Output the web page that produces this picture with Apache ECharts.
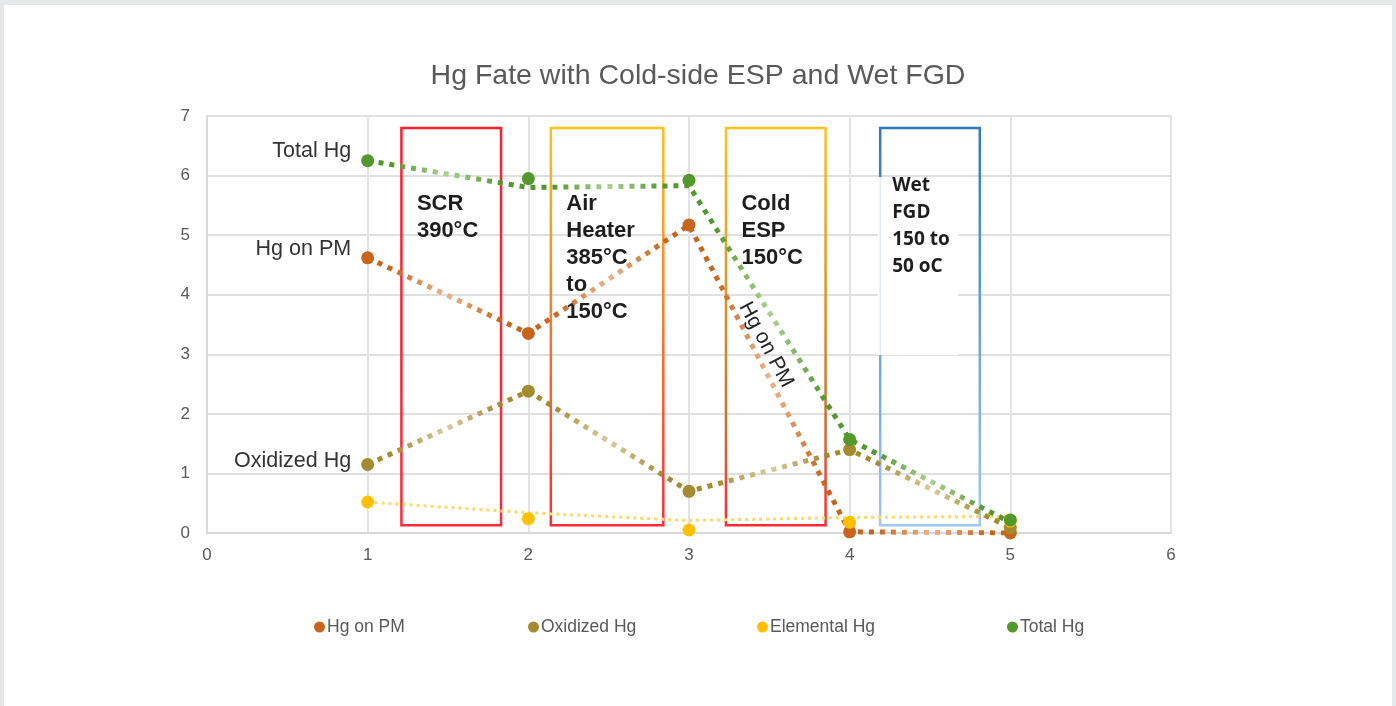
<!DOCTYPE html>
<html>
<head>
<meta charset="utf-8">
<script src="https://cdn.jsdelivr.net/npm/echarts@6/dist/echarts.min.js"></script>
<style>
html,body{margin:0;padding:0;background:#e6e7e9;}
#wrap{position:absolute;left:4px;top:5px;width:1388px;height:701px;background:#fff;}
#chart{position:absolute;left:-4px;top:-5px;width:1396px;height:706px;}
</style>
</head>
<body>
<div id="wrap"><div id="chart"></div></div>
<script>
// ---- data ----
const xValues = [1, 2, 3, 4, 5];
const hgOnPM = [4.62, 3.35, 5.17, 0.02, 0.0];
const oxidizedHg = [1.15, 2.38, 0.70, 1.40, 0.09];
const elementalHg = [0.52, 0.24, 0.05, 0.18, 0.20];
const totalHg = [6.25, 5.95, 5.92, 1.57, 0.22];
// connecting (trend) lines as drawn in the picture
const hgOnPMLine = [4.62, 3.35, 5.17, 0.02, 0.0];
const oxidizedLine = [1.15, 2.38, 0.70, 1.40, 0.09];
const elementalLine = [0.52, 0.34, 0.21, 0.26, 0.28];
const totalLine = [6.25, 5.80, 5.83, 1.57, 0.18];
const seriesNames = ['Hg on PM', 'Oxidized Hg', 'Elemental Hg', 'Total Hg'];
const xTicks = [0, 1, 2, 3, 4, 5, 6];
const yTicks = [0, 1, 2, 3, 4, 5, 6, 7];
// process boxes (value units)
const boxLabels = ['SCR\n390°C', 'Air\nHeater\n385°C\nto\n150°C', 'Cold\nESP\n150°C', 'Wet\nFGD\n150 to\n50 oC'];
const boxStart = [1.21, 2.14, 3.23, 4.19];
const boxEnd = [1.83, 2.84, 3.85, 4.81];
const boxLow = [0.13, 0.13, 0.13, 0.13];
const boxHigh = [6.80, 6.80, 6.80, 6.80];
const rotatedNote = {text: 'Hg on PM', x: 3.48, y: 3.16};

const pair = (arr) => xValues.map((x, i) => [x, arr[i]]);
const G = echarts.graphic;
const SANS = "'Liberation Sans', Arial, sans-serif";

function segGradient(dark, light) {
  const stops = [];
  for (let i = 0; i < 4; i++) {
    const b = i * 0.25;
    stops.push({offset: b, color: dark});
    stops.push({offset: b + 0.04, color: dark});
    stops.push({offset: b + 0.125, color: light});
    stops.push({offset: b + 0.21, color: dark});
  }
  stops.push({offset: 1, color: dark});
  return new G.LinearGradient(0, 0, 1, 0, stops);
}

const colors = ['#c8651c', '#a68a30', '#ffc000', '#52982c'];
const lightColors = ['#ebb58c', '#d9cb9c', '#ffd966', '#abd292'];

const boxStrokes = [
  new G.LinearGradient(0, 0, 0, 1, [{offset: 0, color: '#ff1f2c'}, {offset: 1, color: '#ff2a36'}]),
  new G.LinearGradient(0, 0, 0, 1, [{offset: 0, color: '#ffc21a'}, {offset: 1, color: '#ff2a36'}]),
  new G.LinearGradient(0, 0, 0, 1, [{offset: 0, color: '#ffc21a'}, {offset: 0.75, color: '#cc6d2c'}, {offset: 1, color: '#ff2a36'}]),
  new G.LinearGradient(0, 0, 0, 1, [{offset: 0, color: '#2e78c2'}, {offset: 1, color: '#a0c8f0'}])
];

const labelCfg = {
  'Hg on PM': [-9],
  'Oxidized Hg': [-3],
  'Total Hg': [-10]
};

function scatterSeries(name, arr, color) {
  const data = pair(arr).map((p, i) => {
    const item = {value: p};
    if (i === 0 && labelCfg[name]) {
      item.label = {
        show: true, position: 'left', distance: 10, formatter: name,
        offset: [0, labelCfg[name][0]],
        fontSize: 21.5, color: '#333', fontFamily: SANS
      };
    }
    return item;
  });
  return {
    name: name, type: 'scatter', data: data, symbol: 'circle', symbolSize: 13,
    itemStyle: {color: color, opacity: 1}, z: 5, emphasis: {disabled: true}
  };
}

function lineSeries(name, arr, color, width, dash) {
  return {
    name: name, type: 'line', data: pair(arr), showSymbol: false, symbol: 'none',
    lineStyle: {color: color, width: width, type: dash, cap: 'butt'},
    z: 3, emphasis: {disabled: true}, animation: false
  };
}

const chart = echarts.init(document.getElementById('chart'), null, {renderer: 'canvas'});

const legendLeft = [309, 523, 752, 1002];
const legends = seriesNames.map((n, i) => ({
  data: [{name: n, icon: 'circle', itemStyle: {color: colors[i]}}],
  left: legendLeft[i], top: 613, itemWidth: 11, itemHeight: 11, itemGap: 0,
  textStyle: {fontSize: 17.5, color: '#595959', fontFamily: SANS, padding: [0, 0, 0, -3]},
  selectedMode: false
}));

const option = {
  backgroundColor: 'transparent',
  animation: false,
  title: {
    text: 'Hg Fate with Cold-side ESP and Wet FGD',
    left: 'center', top: 57,
    textStyle: {fontSize: 28.5, fontWeight: 'normal', color: '#595959', fontFamily: SANS}
  },
  legend: legends,
  grid: {left: 207, right: 225, top: 116, bottom: 173, containLabel: false},
  xAxis: {
    type: 'value', min: xTicks[0], max: xTicks[xTicks.length - 1], interval: 1,
    axisLine: {show: true, lineStyle: {color: '#d9d9d9', width: 2}},
    axisTick: {show: false},
    splitLine: {show: true, lineStyle: {color: '#e3e3e3', width: 2}},
    axisLabel: {fontSize: 17, color: '#595959', margin: 14, fontFamily: SANS}
  },
  yAxis: {
    type: 'value', min: yTicks[0], max: yTicks[yTicks.length - 1], interval: 1,
    axisLine: {show: true, lineStyle: {color: '#d9d9d9', width: 2}},
    axisTick: {show: false},
    splitLine: {show: true, lineStyle: {color: '#e0e0e0', width: 2}},
    axisLabel: {fontSize: 17, color: '#595959', margin: 17, fontFamily: SANS}
  },
  series: [
    {
      type: 'custom', name: 'boxes', z: 1, silent: true, clip: false,
      encode: {x: [0, 1], y: [2, 3]},
      data: boxLabels.map((t, i) => [boxStart[i], boxEnd[i], boxLow[i], boxHigh[i]]),
      renderItem: function (params, api) {
        const i = params.dataIndex;
        const tl = api.coord([api.value(0), api.value(3)]);
        const br = api.coord([api.value(1), api.value(2)]);
        const w = br[0] - tl[0], h = br[1] - tl[1];
        const children = [];
        const isWet = i === 3;
        children.push({
          type: 'rect', shape: {x: tl[0], y: tl[1], width: w, height: h},
          style: {fill: null, stroke: boxStrokes[i], lineWidth: 2.5}
        });
        if (isWet) {
          children.push({
            type: 'rect', shape: {x: tl[0] - 2, y: tl[1] + 49, width: 80, height: 178},
            style: {fill: '#ffffff', stroke: null}
          });
          children.push({
            type: 'rect', shape: {x: tl[0] - 0.5, y: tl[1] + 49, width: 1, height: 178},
            style: {fill: '#cfe3f7', stroke: null}
          });
        }
        children.push({
          type: 'text',
          x: tl[0] + (isWet ? 12 : 15.5),
          y: tl[1] + (isWet ? 44 : 63),
          style: {
            text: boxLabels[i],
            fill: '#1e1e1e',
            font: isWet ? 'bold 19px "Open Sans"' : 'bold 22px "Liberation Sans"',
            lineHeight: 27,
            verticalAlign: 'top'
          }
        });
        return {type: 'group', children: children};
      }
    },
    {
      type: 'custom', name: 'note', z: 6, silent: true, clip: false,
      encode: {x: 0, y: 1},
      data: [[rotatedNote.x, rotatedNote.y]],
      renderItem: function (params, api) {
        const p = api.coord([api.value(0), api.value(1)]);
        return {
          type: 'text', x: p[0], y: p[1], rotation: -62 * Math.PI / 180,
          style: {
            text: rotatedNote.text, fill: '#222', fontSize: 21,
            fontFamily: SANS,
            align: 'center', verticalAlign: 'middle'
          }
        };
      }
    },
    scatterSeries(seriesNames[0], hgOnPM, colors[0]),
    scatterSeries(seriesNames[1], oxidizedHg, colors[1]),
    scatterSeries(seriesNames[2], elementalHg, colors[2]),
    scatterSeries(seriesNames[3], totalHg, colors[3]),
    lineSeries(seriesNames[2], elementalLine, lightColors[2], 3, [3, 4]),
    lineSeries(seriesNames[1], oxidizedLine, segGradient(colors[1], lightColors[1]), 5, [5, 6]),
    lineSeries(seriesNames[0], hgOnPMLine, segGradient(colors[0], lightColors[0]), 5, [5, 6]),
    lineSeries(seriesNames[3], totalLine, segGradient(colors[3], lightColors[3]), 5, [5, 6])
  ]
};
chart.setOption(option);
</script>
</body>
</html>
